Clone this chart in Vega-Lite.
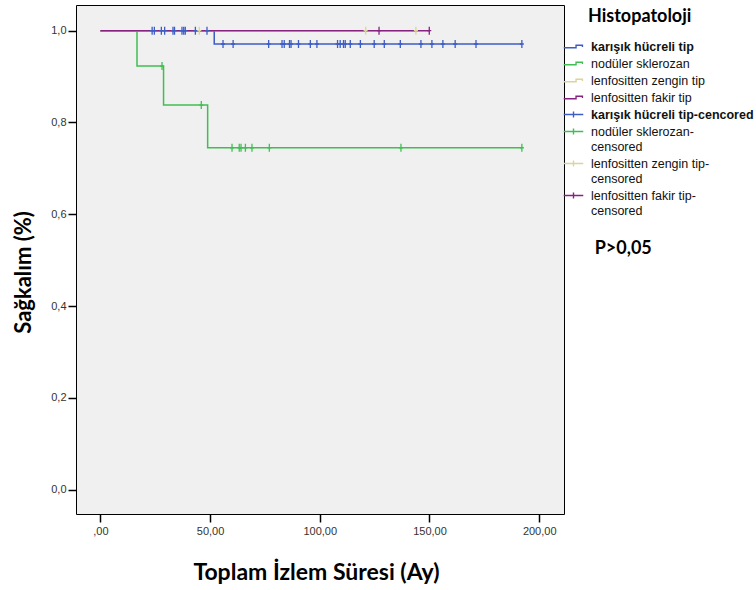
{
  "$schema": "https://vega.github.io/schema/vega-lite/v6.json",
  "autosize": {"type": "none"},
  "padding": {"left": 76, "top": 5, "right": 192, "bottom": 76},
  "width": 488,
  "height": 509,
  "background": "white",
  "config": {
    "view": {"fill": "#f0f0f0", "stroke": "black", "strokeWidth": 1},
    "axis": {
      "grid": false,
      "domain": false,
      "tickColor": "black",
      "tickSize": 8,
      "tickWidth": 1.5,
      "labelFont": "Liberation Sans",
      "labelFontSize": 11,
      "labelColor": "#333",
      "titleFont": "Lato",
      "titleFontWeight": "bold",
      "titleColor": "black"
    }
  },
  "data": {
    "values": [
      {"series": "karışık hücreli tip", "kind": "line", "t": 0, "s": 1},
      {"series": "karışık hücreli tip", "kind": "line", "t": 51.9, "s": 0.971},
      {"series": "karışık hücreli tip", "kind": "line", "t": 192.1, "s": 0.971},
      {"series": "nodüler sklerozan", "kind": "line", "t": 0, "s": 1},
      {"series": "nodüler sklerozan", "kind": "line", "t": 16.7, "s": 0.923},
      {"series": "nodüler sklerozan", "kind": "line", "t": 28.8, "s": 0.838},
      {"series": "nodüler sklerozan", "kind": "line", "t": 48.9, "s": 0.745},
      {"series": "nodüler sklerozan", "kind": "line", "t": 192.1, "s": 0.745},
      {"series": "lenfositten zengin tip", "kind": "line", "t": 0, "s": 1},
      {"series": "lenfositten zengin tip", "kind": "line", "t": 143.8, "s": 1},
      {"series": "lenfositten fakir tip", "kind": "line", "t": 0, "s": 1},
      {"series": "lenfositten fakir tip", "kind": "line", "t": 149.9, "s": 1},

      {"series": "karışık hücreli tip-cencored", "kind": "censor", "t": 23.6, "s": 1},
      {"series": "karışık hücreli tip-cencored", "kind": "censor", "t": 24.6, "s": 1},
      {"series": "karışık hücreli tip-cencored", "kind": "censor", "t": 27.8, "s": 1},
      {"series": "karışık hücreli tip-cencored", "kind": "censor", "t": 29.3, "s": 1},
      {"series": "karışık hücreli tip-cencored", "kind": "censor", "t": 33.1, "s": 1},
      {"series": "karışık hücreli tip-cencored", "kind": "censor", "t": 33.8, "s": 1},
      {"series": "karışık hücreli tip-cencored", "kind": "censor", "t": 37.2, "s": 1},
      {"series": "karışık hücreli tip-cencored", "kind": "censor", "t": 38.0, "s": 1},
      {"series": "karışık hücreli tip-cencored", "kind": "censor", "t": 38.7, "s": 1},
      {"series": "karışık hücreli tip-cencored", "kind": "censor", "t": 43.3, "s": 1},
      {"series": "karışık hücreli tip-cencored", "kind": "censor", "t": 48.6, "s": 1},
      {"series": "karışık hücreli tip-cencored", "kind": "censor", "t": 55.9, "s": 0.971},
      {"series": "karışık hücreli tip-cencored", "kind": "censor", "t": 60.5, "s": 0.971},
      {"series": "karışık hücreli tip-cencored", "kind": "censor", "t": 76.7, "s": 0.971},
      {"series": "karışık hücreli tip-cencored", "kind": "censor", "t": 82.8, "s": 0.971},
      {"series": "karışık hücreli tip-cencored", "kind": "censor", "t": 83.8, "s": 0.971},
      {"series": "karışık hücreli tip-cencored", "kind": "censor", "t": 86.2, "s": 0.971},
      {"series": "karışık hücreli tip-cencored", "kind": "censor", "t": 86.9, "s": 0.971},
      {"series": "karışık hücreli tip-cencored", "kind": "censor", "t": 90.3, "s": 0.971},
      {"series": "karışık hücreli tip-cencored", "kind": "censor", "t": 95.7, "s": 0.971},
      {"series": "karışık hücreli tip-cencored", "kind": "censor", "t": 98.7, "s": 0.971},
      {"series": "karışık hücreli tip-cencored", "kind": "censor", "t": 108.1, "s": 0.971},
      {"series": "karışık hücreli tip-cencored", "kind": "censor", "t": 109.3, "s": 0.971},
      {"series": "karışık hücreli tip-cencored", "kind": "censor", "t": 110.8, "s": 0.971},
      {"series": "karışık hücreli tip-cencored", "kind": "censor", "t": 111.6, "s": 0.971},
      {"series": "karışık hücreli tip-cencored", "kind": "censor", "t": 113.9, "s": 0.971},
      {"series": "karışık hücreli tip-cencored", "kind": "censor", "t": 118.5, "s": 0.971},
      {"series": "karışık hücreli tip-cencored", "kind": "censor", "t": 124.8, "s": 0.971},
      {"series": "karışık hücreli tip-cencored", "kind": "censor", "t": 129.4, "s": 0.971},
      {"series": "karışık hücreli tip-cencored", "kind": "censor", "t": 136.7, "s": 0.971},
      {"series": "karışık hücreli tip-cencored", "kind": "censor", "t": 146.1, "s": 0.971},
      {"series": "karışık hücreli tip-cencored", "kind": "censor", "t": 151.1, "s": 0.971},
      {"series": "karışık hücreli tip-cencored", "kind": "censor", "t": 156.1, "s": 0.971},
      {"series": "karışık hücreli tip-cencored", "kind": "censor", "t": 161.7, "s": 0.971},
      {"series": "karışık hücreli tip-cencored", "kind": "censor", "t": 171.2, "s": 0.971},
      {"series": "karışık hücreli tip-cencored", "kind": "censor", "t": 192.1, "s": 0.971},

      {"series": "nodüler sklerozan-censored", "kind": "censor", "t": 28.1, "s": 0.923},
      {"series": "nodüler sklerozan-censored", "kind": "censor", "t": 46.0, "s": 0.838},
      {"series": "nodüler sklerozan-censored", "kind": "censor", "t": 60.0, "s": 0.745},
      {"series": "nodüler sklerozan-censored", "kind": "censor", "t": 63.3, "s": 0.745},
      {"series": "nodüler sklerozan-censored", "kind": "censor", "t": 64.1, "s": 0.745},
      {"series": "nodüler sklerozan-censored", "kind": "censor", "t": 66.1, "s": 0.745},
      {"series": "nodüler sklerozan-censored", "kind": "censor", "t": 69.1, "s": 0.745},
      {"series": "nodüler sklerozan-censored", "kind": "censor", "t": 77.0, "s": 0.745},
      {"series": "nodüler sklerozan-censored", "kind": "censor", "t": 137.0, "s": 0.745},
      {"series": "nodüler sklerozan-censored", "kind": "censor", "t": 192.1, "s": 0.745},

      {"series": "lenfositten zengin tip-censored", "kind": "censor", "t": 45.1, "s": 1},
      {"series": "lenfositten zengin tip-censored", "kind": "censor", "t": 120.9, "s": 1},
      {"series": "lenfositten zengin tip-censored", "kind": "censor", "t": 143.8, "s": 1},

      {"series": "lenfositten fakir tip-censored", "kind": "censor", "t": 127.0, "s": 1},
      {"series": "lenfositten fakir tip-censored", "kind": "censor", "t": 149.9, "s": 1},

      {"kind": "note", "note": "P>0,05"}
    ]
  },
  "layer": [
    {
      "transform": [{"filter": "datum.kind == 'line'"}],
      "mark": {"type": "line", "interpolate": "step-after", "strokeWidth": 1.5},
      "encoding": {
        "x": {
          "field": "t",
          "type": "quantitative",
          "scale": {"domain": [-11.1, 211.3], "nice": false, "zero": false},
          "axis": {
            "values": [0, 50, 100, 150, 200],
            "labelExpr": "datum.value == 0 ? ',00' : replace(format(datum.value, '.2f'), '.', ',')",
            "labelPadding": 3,
            "title": "Toplam İzlem Süresi (Ay)",
            "titleFontSize": 23,
            "titleX": 240,
            "titleY": 58,
            "titleBaseline": "middle",
            "titleAlign": "center"
          }
        },
        "y": {
          "field": "s",
          "type": "quantitative",
          "scale": {"domain": [-0.053, 1.056], "nice": false, "zero": false},
          "axis": {
            "values": [0, 0.2, 0.4, 0.6, 0.8, 1],
            "labelExpr": "replace(format(datum.value, '.1f'), '.', ',')",
            "labelPadding": 2,
            "title": "Sağkalım (%)",
            "titleFontSize": 22,
            "titleX": -53,
            "titleY": 267,
            "titleAngle": 270,
            "titleBaseline": "middle",
            "titleAlign": "center"
          }
        },
        "color": {
          "field": "series",
          "type": "nominal",
          "scale": {
            "domain": [
              "karışık hücreli tip",
              "nodüler sklerozan",
              "lenfositten zengin tip",
              "lenfositten fakir tip",
              "karışık hücreli tip-cencored",
              "nodüler sklerozan-censored",
              "lenfositten zengin tip-censored",
              "lenfositten fakir tip-censored"
            ],
            "range": ["#3d5cc4", "#3fbf52", "#dad49e", "#86237f", "#3d5cc4", "#3fbf52", "#dad49e", "#86237f"]
          },
          "legend": {
            "title": "Histopatoloji",
            "orient": "right",
            "offset": 0,
            "padding": 0,
            "titleFont": "Lato",
            "titleFontSize": 18,
            "titleFontWeight": "bold",
            "titleColor": "black",
            "titlePadding": 14,
            "labelFont": "Liberation Sans",
            "labelFontSize": 12.5,
            "labelColor": "#111",
            "labelOffset": 8,
            "labelLimit": 300,
            "rowPadding": 1,
            "symbolSize": 289,
            "symbolStrokeWidth": 1.4,
            "labelExpr": "indexof(datum.label, 'censored') > 0 ? [replace(datum.label, 'censored', ''), 'censored'] : datum.label",
            "encode": {
              "title": {"update": {"dx": {"value": 24}, "dy": {"value": 3}}},
              "labels": {
                "update": {
                  "fontWeight": {"signal": "indexof(datum.value, 'karışık') === 0 ? 'bold' : 'normal'"},
                  "lineHeight": {"value": 15}
                }
              },
              "symbols": {
                "update": {
                  "shape": {"signal": "indexof(datum.value, 'cen') > 0 ? 'M-1.15,0H1.15M0,-0.35V0.35' : 'M-1.15,0.15H0.3V-0.15H1.05V0.05'"},
                  "fill": {"value": "transparent"},
                  "strokeWidth": {"value": 1.4}
                }
              }
            }
          }
        }
      }
    },
    {
      "transform": [{"filter": "datum.kind == 'censor'"}],
      "mark": {"type": "point", "shape": "M-0.5,0H0.5M0,-1V1", "size": 64, "filled": false, "strokeWidth": 1.3, "opacity": 1},
      "encoding": {
        "x": {"field": "t", "type": "quantitative"},
        "y": {"field": "s", "type": "quantitative"},
        "color": {"field": "series", "type": "nominal"}
      }
    },
    {
      "transform": [{"filter": "datum.kind == 'note'"}],
      "mark": {"type": "text", "font": "Lato", "fontWeight": "bold", "fontSize": 18, "fill": "black", "align": "center", "baseline": "middle", "clip": false},
      "encoding": {
        "x": {"datum": 238.3, "type": "quantitative"},
        "y": {"datum": 0.525, "type": "quantitative"},
        "text": {"field": "note", "type": "nominal"}
      }
    }
  ]
}
